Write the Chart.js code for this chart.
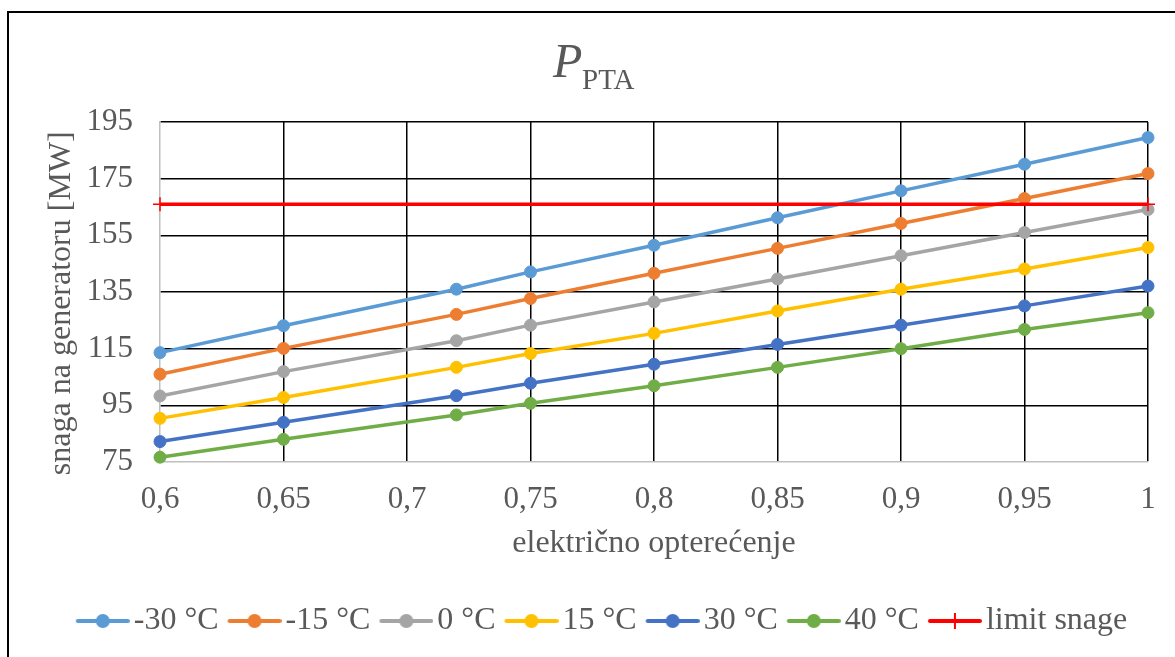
<!DOCTYPE html>
<html><head><meta charset="utf-8">
<script src="https://cdn.jsdelivr.net/npm/chart.js@4"></script>
<style>
html,body{margin:0;padding:0;background:#fff;overflow:hidden;}
#wrap{position:relative;width:1175px;height:657px;overflow:hidden;background:#fff;}
#frame{position:absolute;left:7px;top:11px;width:1300px;height:800px;border:2px solid #000;box-sizing:border-box;}
canvas{position:absolute;left:0;top:0;}
.t{position:absolute;font-family:'Liberation Serif','Times New Roman',serif;color:#595959;line-height:1;white-space:nowrap;}
</style></head><body>
<div id="wrap">
<div id="frame"></div>
<canvas id="c" width="1175" height="657"></canvas>
<span class="t" style="left:553px;top:37px;font-size:48px;font-style:italic">P</span>
<span class="t" style="left:582px;top:65px;font-size:29px">PTA</span>
</div>
<script>
// ---- data ----
const loads = [0.6, 0.65, 0.72, 0.75, 0.8, 0.85, 0.9, 0.95, 1];
const seriesNames = ['-30 °C', '-15 °C', '0 °C', '15 °C', '30 °C', '40 °C'];
const sMinus30 = [113.6, 123.1, 136.0, 142.1, 151.5, 161.2, 170.7, 180.1, 189.5];
const sMinus15 = [106.0, 115.1, 127.1, 132.7, 141.6, 150.4, 159.2, 168.0, 176.8];
const sZero    = [98.3, 106.9, 117.8, 123.3, 131.5, 139.6, 147.8, 156.0, 164.1];
const sPlus15  = [90.4, 97.8, 108.4, 113.3, 120.4, 128.3, 136.0, 143.1, 150.7];
const sPlus30  = [82.2, 89.0, 98.4, 102.8, 109.5, 116.5, 123.3, 130.1, 137.1];
const sPlus40  = [76.7, 83.0, 91.6, 95.7, 101.9, 108.4, 115.0, 121.8, 127.7];
const limitName = 'limit snage';
const limitX = [0.6, 1];
const limitY = [166, 166];
const xTickLabels = ['0,6', '0,65', '0,7', '0,75', '0,8', '0,85', '0,9', '0,95', '1'];
const yTickLabels = ['75', '95', '115', '135', '155', '175', '195'];
const xTitle = 'električno opterećenje';
const yTitle = 'snaga na generatoru [MW]';

// ---- styles ----
const colors = ['#5B9BD5', '#ED7D31', '#A5A5A5', '#FFC000', '#4472C4', '#70AD47'];
const limitColor = '#FF0000';
const textColor = '#595959';
const FONT = "'Liberation Serif', 'Times New Roman', serif";

function legendIcon(color, kind) {
  const c = document.createElement('canvas');
  c.width = 66; c.height = 20;
  const g = c.getContext('2d');
  g.strokeStyle = color; g.lineWidth = 4; g.lineCap = 'round';
  g.beginPath(); g.moveTo(14, 10); g.lineTo(64, 10); g.stroke();
  if (kind === 'circle') {
    g.fillStyle = color; g.beginPath(); g.arc(39, 10, 7, 0, Math.PI * 2); g.fill();
  } else {
    g.lineWidth = 2; g.lineCap = 'butt';
    g.beginPath(); g.moveTo(39, 2); g.lineTo(39, 18); g.stroke();
  }
  return c;
}

const allSeries = [sMinus30, sMinus15, sZero, sPlus15, sPlus30, sPlus40];
const datasets = allSeries.map((vals, i) => ({
  label: seriesNames[i],
  data: loads.map((x, j) => ({x: x, y: vals[j]})),
  borderColor: colors[i],
  backgroundColor: colors[i],
  pointBackgroundColor: colors[i],
  pointBorderColor: colors[i],
  borderWidth: 3.5,
  pointRadius: 6,
  pointBorderWidth: 1,
  pointStyle: 'circle',
  fill: false,
  tension: 0,
  clip: false,
  order: 6 - i,
  _icon: legendIcon(colors[i], 'circle')
}));
datasets.push({
  label: limitName,
  data: limitX.map((x, j) => ({x: x, y: limitY[j]})),
  borderColor: limitColor,
  backgroundColor: limitColor,
  pointBorderColor: limitColor,
  borderWidth: 3.5,
  pointStyle: 'cross',
  pointRadius: 7,
  pointBorderWidth: 1.5,
  fill: false,
  clip: false,
  order: 0,
  _icon: legendIcon(limitColor, 'cross')
});

const near = (a, b) => Math.abs(a - b) < 1e-6;

new Chart(document.getElementById('c'), {
  type: 'line',
  data: {datasets},
  options: {
    responsive: false,
    animation: false,
    devicePixelRatio: 1,
    layout: {padding: {left: 28, right: 0, top: 122, bottom: 10}},
    plugins: {
      title: {display: false},
      tooltip: {enabled: false},
      legend: {
        display: true,
        position: 'bottom',
        align: 'center',
        labels: {
          usePointStyle: true,
          pointStyleWidth: 42,
          padding: 9,
          color: textColor,
          font: {family: FONT, size: 32},
          generateLabels: (chart) => chart.data.datasets.map((ds, i) => ({
            text: ds.label,
            pointStyle: ds._icon,
            fillStyle: ds.borderColor,
            strokeStyle: ds.borderColor,
            fontColor: textColor,
            lineWidth: 0,
            hidden: false,
            datasetIndex: i
          }))
        }
      }
    },
    scales: {
      x: {
        type: 'linear',
        min: 0.6, max: 1,
        afterFit: (s) => { s.height = 134; },
        grid: {
          color: (c) => (c.tick && near(c.tick.value, 0.6)) ? 'rgba(0,0,0,0)' : '#000',
          lineWidth: 1.5,
          drawTicks: false
        },
        border: {display: true, color: '#BFBFBF', width: 1.5},
        ticks: {
          stepSize: 0.05,
          padding: 19,
          color: textColor,
          font: {family: FONT, size: 31},
          maxRotation: 0,
          autoSkip: false,
          callback: (v, i) => xTickLabels[i]
        },
        title: {
          display: true,
          text: xTitle,
          color: textColor,
          font: {family: FONT, size: 32},
          padding: {top: 0, bottom: 33}
        }
      },
      y: {
        type: 'linear',
        position: 'left',
        min: 75, max: 195,
        afterFit: (s) => { s.width = 132; },
        grid: {
          color: (c) => (c.tick && near(c.tick.value, 75)) ? 'rgba(0,0,0,0)' : '#000',
          lineWidth: 1.5,
          drawTicks: false
        },
        border: {display: true, color: '#BFBFBF', width: 1.5},
        ticks: {
          stepSize: 20,
          padding: 27,
          color: textColor,
          font: {family: FONT, size: 31},
          callback: (v, i) => yTickLabels[i]
        },
        title: {
          display: true,
          text: yTitle + '  \u2009',
          color: textColor,
          font: {family: FONT, size: 32},
          padding: {top: 14, bottom: 0}
        }
      },
      yRight: {
        type: 'linear',
        position: 'right',
        display: true,
        afterFit: (s) => { s.width = 27; },
        grid: {display: false},
        border: {display: false},
        ticks: {display: false}
      }
    }
  }
});
</script>
</body></html>
